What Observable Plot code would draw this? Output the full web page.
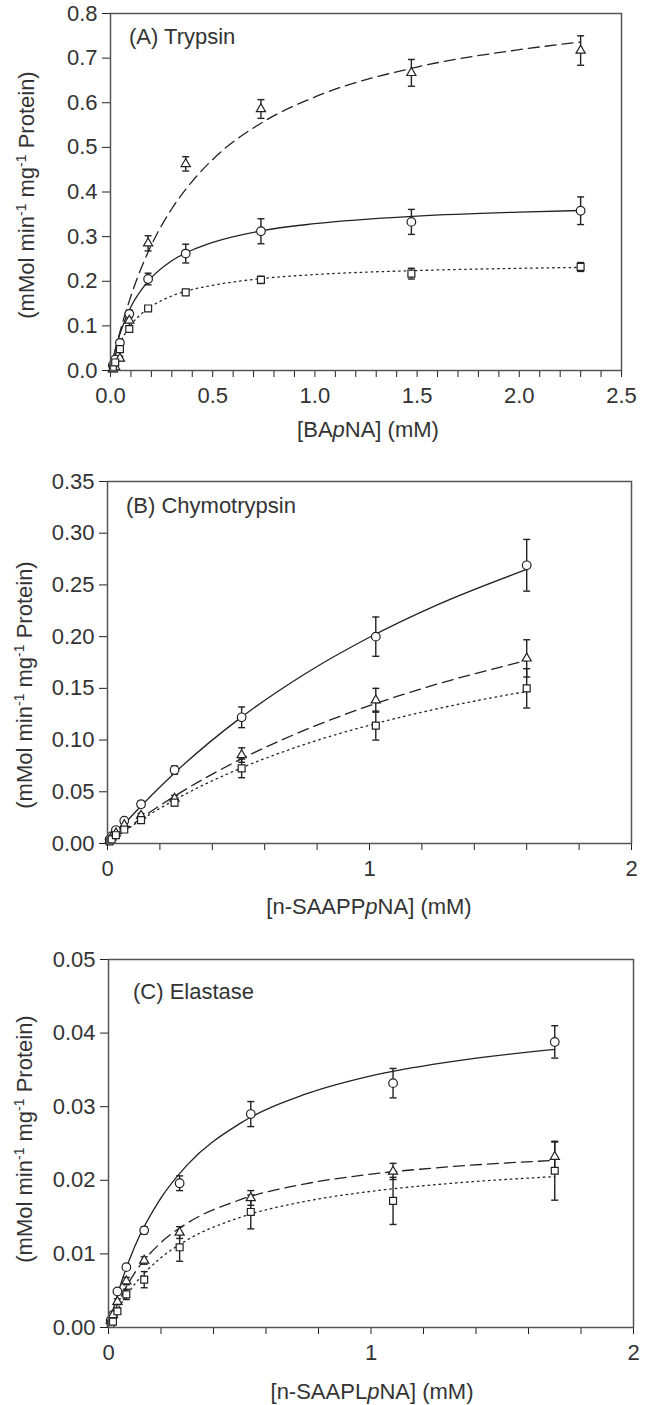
<!DOCTYPE html>
<html><head><meta charset="utf-8">
<script src="https://cdn.jsdelivr.net/npm/d3@7"></script>
<script src="https://cdn.jsdelivr.net/npm/@observablehq/plot@0.6"></script>
<style>
body{margin:0;background:#fff;}
#chart{width:645px;}
#chart svg{display:block;}
</style></head><body><div id="chart"></div>
<script>
// ---------- Panel A: Trypsin ----------
const xA = [0.0115, 0.023, 0.046, 0.092, 0.184, 0.368, 0.736, 1.472, 2.3];
const circleA = [0.012, 0.025, 0.062, 0.127, 0.205, 0.262, 0.312, 0.333, 0.358];
const circleErrA = [0.002, 0.003, 0.004, 0.008, 0.013, 0.021, 0.028, 0.028, 0.031];
const triA = [0.003, 0.008, 0.027, 0.112, 0.285, 0.463, 0.586, 0.667, 0.717];
const triErrA = [0.002, 0.003, 0.005, 0.012, 0.017, 0.016, 0.021, 0.030, 0.033];
const sqA = [0.005, 0.018, 0.048, 0.093, 0.139, 0.175, 0.203, 0.217, 0.232];
const sqErrA = [0.002, 0.003, 0.004, 0.005, 0.004, 0.006, 0.008, 0.012, 0.010];
const fitXA = [0, 0.025, 0.05, 0.1, 0.15, 0.2, 0.3, 0.4, 0.5, 0.75, 1.0, 1.5, 2.0, 2.3];
const fitCircleA = [0, 0.0494, 0.0875, 0.143, 0.180, 0.208, 0.246, 0.270, 0.287, 0.314, 0.329, 0.346, 0.355, 0.3585];
const fitTriA = [0, 0.0489, 0.0926, 0.167, 0.229, 0.281, 0.3625, 0.424, 0.473, 0.558, 0.613, 0.680, 0.719, 0.736];
const fitSqA = [0, 0.0371, 0.0645, 0.102, 0.1267, 0.144, 0.167, 0.1815, 0.191, 0.2065, 0.215, 0.224, 0.229, 0.231];
const xTicksA = [0, 0.1, 0.2, 0.3, 0.4, 0.5, 0.6, 0.7, 0.8, 0.9, 1.0, 1.1, 1.2, 1.3, 1.4, 1.5, 1.6, 1.7, 1.8, 1.9, 2.0, 2.1, 2.2, 2.3, 2.4, 2.5];
const xLabelsA = [0, 0.5, 1.0, 1.5, 2.0, 2.5];
const yTicksA = [0, 0.1, 0.2, 0.3, 0.4, 0.5, 0.6, 0.7, 0.8];

// ---------- Panel B: Chymotrypsin ----------
const xB = [0.008, 0.016, 0.032, 0.064, 0.128, 0.256, 0.512, 1.024, 1.6];
const circleB = [0.004, 0.007, 0.013, 0.022, 0.038, 0.071, 0.122, 0.200, 0.269];
const circleErrB = [0.001, 0.001, 0.002, 0.002, 0.003, 0.004, 0.010, 0.019, 0.025];
const triB = [0.003, 0.006, 0.010, 0.018, 0.027, 0.0435, 0.0855, 0.1385, 0.179];
const triErrB = [0.001, 0.001, 0.001, 0.002, 0.002, 0.003, 0.007, 0.0115, 0.018];
const sqB = [0.002, 0.004, 0.008, 0.0135, 0.0226, 0.0395, 0.0726, 0.114, 0.150];
const sqErrB = [0.001, 0.001, 0.001, 0.002, 0.002, 0.003, 0.009, 0.014, 0.019];
const fitXB = [0, 0.1, 0.25, 0.5, 0.75, 1.0, 1.25, 1.6];
const fitCircleB = [0, 0.0287, 0.0668, 0.120, 0.1634, 0.1994, 0.2298, 0.265];
const fitTriB = [0, 0.0193, 0.0448, 0.0804, 0.1093, 0.1333, 0.1535, 0.1769];
const fitSqB = [0, 0.0181, 0.0413, 0.0719, 0.0956, 0.1144, 0.1298, 0.147];
const xTicksB = [0, 0.2, 0.4, 0.6, 0.8, 1.0, 1.2, 1.4, 1.6, 1.8, 2.0];
const xLabelsB = [0, 1, 2];
const yTicksB = [0, 0.05, 0.10, 0.15, 0.20, 0.25, 0.30, 0.35];

// ---------- Panel C: Elastase ----------
const xC = [0.0085, 0.017, 0.034, 0.068, 0.136, 0.271, 0.542, 1.084, 1.7];
const circleC = [0.0010, 0.0017, 0.0049, 0.0082, 0.0132, 0.0196, 0.0290, 0.0332, 0.0388];
const circleErrC = [0.0003, 0.0003, 0.0003, 0.0004, 0.0005, 0.0010, 0.0017, 0.0020, 0.0022];
const triC = [0.0009, 0.0017, 0.0035, 0.0063, 0.0091, 0.0129, 0.0176, 0.0212, 0.0232];
const triErrC = [0.0002, 0.0003, 0.0004, 0.0005, 0.0005, 0.0008, 0.0010, 0.0011, 0.0020];
const sqC = [0.0005, 0.0008, 0.0022, 0.0045, 0.0065, 0.0109, 0.0157, 0.0172, 0.0213];
const sqErrC = [0.0002, 0.0003, 0.0004, 0.0007, 0.0011, 0.0019, 0.0023, 0.0032, 0.0040];
const fitXC = [0, 0.025, 0.05, 0.1, 0.2, 0.3, 0.5, 0.75, 1.0, 1.3, 1.7];
const fitCircleC = [0, 0.00337, 0.00626, 0.0110, 0.0176, 0.0221, 0.0277, 0.0317, 0.0342, 0.0361, 0.0378];
const fitTriC = [0, 0.00236, 0.00432, 0.00742, 0.01155, 0.01418, 0.01734, 0.01952, 0.02083, 0.02184, 0.0227];
const fitSqC = [0, 0.0018, 0.00335, 0.00589, 0.00948, 0.0119, 0.01494, 0.01714, 0.0185, 0.01957, 0.0205];
const xTicksC = [0, 0.2, 0.4, 0.6, 0.8, 1.0, 1.2, 1.4, 1.6, 1.8, 2.0];
const xLabelsC = [0, 1, 2];
const yTicksC = [0, 0.01, 0.02, 0.03, 0.04, 0.05];

const titles = ["(A) Trypsin", "(B) Chymotrypsin", "(C) Elastase"];
const xLabelParts = [["[BA", "p", "NA] (mM)"], ["[n-SAAPP", "p", "NA] (mM)"], ["[n-SAAPL", "p", "NA] (mM)"]];

// ---------- drawing ----------
const FONT = "'Liberation Sans', Arial, Helvetica, sans-serif";
const INK = "#222";
const TXT = "#333";
const cap = {draw(ctx, size) { const w = Math.sqrt(size / Math.PI); ctx.moveTo(-w, 0); ctx.lineTo(w, 0); }};

function isLabeled(list, d) { return list.some(v => Math.abs(v - d) < 1e-9); }

function panel(cfg) {
  const marks = [];
  const series = [
    {y: cfg.circle, e: cfg.circleErr, fit: cfg.fitCircle, sym: "circle", r: 4.3, dash: null},
    {y: cfg.tri, e: cfg.triErr, fit: cfg.fitTri, sym: "triangle", r: 3.4, dash: "11,6"},
    {y: cfg.sq, e: cfg.sqErr, fit: cfg.fitSq, sym: "square", r: 3.9, dash: "1.5,4"}
  ];
  const allRows = series.map(s => cfg.xs.map((x, i) => ({x, y: s.y[i], lo: s.y[i] - s.e[i], hi: s.y[i] + s.e[i]})));
  marks.push(Plot.axisY({ticks: cfg.yTicks, tickFormat: d3.format(cfg.yFmt), tickSize: 8, tickPadding: 5, label: null, stroke: INK, fill: TXT, fontSize: 22}));
  marks.push(Plot.axisX({ticks: cfg.xTicks, tickFormat: d => isLabeled(cfg.xLabels, d) ? d3.format(cfg.xFmt)(d) : "", tickSize: 7, tickPadding: 10, label: null, stroke: INK, fill: TXT, fontSize: 22}));
  allRows.forEach(rows => {
    marks.push(Plot.ruleX(rows, {x: "x", y1: "lo", y2: "hi", stroke: INK, strokeWidth: 1.4}));
    marks.push(Plot.dot(rows, {x: "x", y: "hi", symbol: cap, r: 3.5, stroke: INK, strokeWidth: 1.4}));
    marks.push(Plot.dot(rows, {x: "x", y: "lo", symbol: cap, r: 3.5, stroke: INK, strokeWidth: 1.4}));
  });
  series.forEach(s => {
    const fitRows = cfg.fitX.map((x, i) => ({x, y: s.fit[i]}));
    marks.push(Plot.line(fitRows, {x: "x", y: "y", curve: "monotone-x", stroke: INK, strokeWidth: 1.3, strokeDasharray: s.dash}));
  });
  series.forEach((s, k) => {
    marks.push(Plot.dot(allRows[k], {x: "x", y: "y", symbol: s.sym, r: s.r, fill: "white", stroke: INK, strokeWidth: 1.2}));
  });
  marks.push(Plot.frame({stroke: "#555", strokeWidth: 1.5}));
  const svg = Plot.plot({
    width: 645, height: cfg.height,
    marginTop: cfg.mt, marginRight: cfg.mr, marginBottom: cfg.mb, marginLeft: cfg.ml,
    x: {domain: cfg.xDomain}, y: {domain: cfg.yDomain},
    style: {fontFamily: FONT, fontSize: "22px", color: TXT, background: "white", overflow: "visible"},
    marks
  });
  const s = d3.select(svg);
  s.append("text").attr("x", cfg.titleX).attr("y", cfg.titleY).attr("text-anchor", "start").attr("font-size", 22).attr("fill", TXT).attr("font-family", FONT).text(cfg.title);
  const xl = s.append("text").attr("x", cfg.xlX).attr("y", cfg.xlY).attr("text-anchor", "middle").attr("font-size", 22).attr("fill", TXT).attr("font-family", FONT);
  xl.append("tspan").text(cfg.xLabel[0]);
  xl.append("tspan").attr("font-style", "italic").text(cfg.xLabel[1]);
  xl.append("tspan").text(cfg.xLabel[2]);
  const yl = s.append("text").attr("transform", `translate(${cfg.ylX},${cfg.ylY}) rotate(-90)`).attr("text-anchor", "middle").attr("font-size", 22).attr("fill", TXT).attr("font-family", FONT);
  yl.append("tspan").text("(mMol min");
  yl.append("tspan").attr("font-size", 14).attr("dy", -8).text("-1");
  yl.append("tspan").attr("dy", 8).text(" mg");
  yl.append("tspan").attr("font-size", 14).attr("dy", -8).text("-1");
  yl.append("tspan").attr("dy", 8).text(" Protein)");
  document.getElementById("chart").appendChild(svg);
}

panel({xs: xA, circle: circleA, circleErr: circleErrA, tri: triA, triErr: triErrA, sq: sqA, sqErr: sqErrA,
  fitX: fitXA, fitCircle: fitCircleA, fitTri: fitTriA, fitSq: fitSqA,
  xTicks: xTicksA, xLabels: xLabelsA, xFmt: ".1f", yTicks: yTicksA, yFmt: ".1f",
  xDomain: [0, 2.5], yDomain: [0, 0.8],
  height: 465, mt: 13, mb: 95, ml: 110, mr: 24,
  title: titles[0], titleX: 129, titleY: 44, xLabel: xLabelParts[0], xlX: 368, xlY: 437, ylX: 34, ylY: 195});

panel({xs: xB, circle: circleB, circleErr: circleErrB, tri: triB, triErr: triErrB, sq: sqB, sqErr: sqErrB,
  fitX: fitXB, fitCircle: fitCircleB, fitTri: fitTriB, fitSq: fitSqB,
  xTicks: xTicksB, xLabels: xLabelsB, xFmt: "d", yTicks: yTicksB, yFmt: ".2f",
  xDomain: [0, 2], yDomain: [0, 0.35],
  height: 470, mt: 16, mb: 92, ml: 107, mr: 14,
  title: titles[1], titleX: 126, titleY: 48, xLabel: xLabelParts[1], xlX: 369, xlY: 449, ylX: 32, ylY: 220});

panel({xs: xC, circle: circleC, circleErr: circleErrC, tri: triC, triErr: triErrC, sq: sqC, sqErr: sqErrC,
  fitX: fitXC, fitCircle: fitCircleC, fitTri: fitTriC, fitSq: fitSqC,
  xTicks: xTicksC, xLabels: xLabelsC, xFmt: "d", yTicks: yTicksC, yFmt: ".2f",
  xDomain: [0, 2], yDomain: [0, 0.05],
  height: 470, mt: 24, mb: 78, ml: 108, mr: 12,
  title: titles[2], titleX: 133, titleY: 64, xLabel: xLabelParts[2], xlX: 372, xlY: 464, ylX: 32, ylY: 204});
</script>
</body></html>
